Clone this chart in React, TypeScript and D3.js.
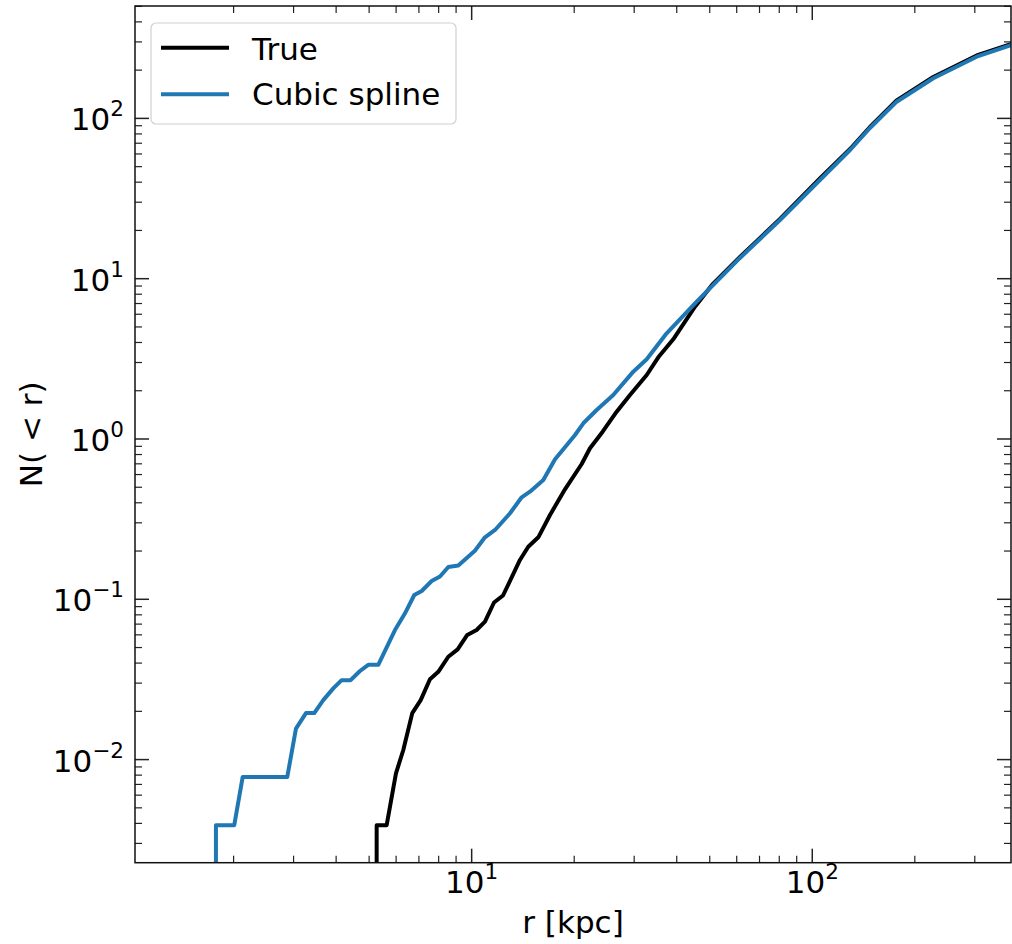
import React from "react";
import * as d3 from "d3";

const rTrue = [5.261, 5.261, 5.629, 5.994, 6.299, 6.693, 7.085, 7.543, 7.98, 8.538, 9.096, 9.707, 10.34, 10.94, 11.63, 12.36, 13.86, 14.66, 15.69, 16.98, 18.79, 21.04, 22.25, 24.24, 26.65, 29.16, 32.65, 35.31, 39.07, 45.25, 50.76, 61.34, 80.4, 105.3, 129.1, 147.7, 176.9, 226.6, 303.9, 384.9];
const nTrue = [0.0001, 0.0039, 0.0039, 0.00821, 0.01148, 0.0195, 0.0235, 0.0317, 0.0353, 0.0438, 0.0487, 0.0599, 0.0643, 0.0725, 0.0955, 0.1056, 0.1759, 0.2129, 0.2436, 0.3357, 0.4856, 0.6984, 0.8749, 1.111, 1.48, 1.882, 2.507, 3.233, 4.188, 6.689, 9.135, 13.66, 23.57, 42.18, 64.44, 88.4, 129.3, 181.3, 246.9, 291.1];

const rSpline = [1.775, 1.775, 2.009, 2.127, 2.875, 3.049, 3.262, 3.45, 3.667, 3.924, 4.152, 4.412, 4.699, 4.97, 5.319, 5.629, 5.954, 6.372, 6.784, 7.133, 7.631, 8.072, 8.538, 9.135, 10.22, 10.94, 11.71, 12.96, 14.02, 14.83, 16.23, 17.57, 18.79, 20.11, 21.27, 23.28, 26.04, 29.82, 32.65, 37.36, 45.78, 61.34, 80.4, 105.3, 129.1, 147.7, 176.9, 226.6, 303.9, 384.9];
const nSpline = [0.0001, 0.0039, 0.0039, 0.0078, 0.0078, 0.0156, 0.0195, 0.0195, 0.0235, 0.0278, 0.0313, 0.0313, 0.0357, 0.039, 0.039, 0.0502, 0.0643, 0.0818, 0.1064, 0.1127, 0.13, 0.1387, 0.159, 0.1625, 0.201, 0.2436, 0.2706, 0.344, 0.4328, 0.469, 0.5548, 0.747, 0.888, 1.059, 1.253, 1.517, 1.882, 2.63, 3.142, 4.564, 7.186, 13.47, 23.24, 41.28, 63.53, 87.1, 127.1, 177.9, 242.6, 287];

const xDomain = [1.027, 383.2];
const yDomain = [0.002274, 502.5];
const xMajorExps = [1, 2];
const yMajorExps = [-2, -1, 0, 1, 2];
const legendLabels = ["True", "Cubic spline"];
const seriesColors = ["#000000", "#1f77b4"];

const FONT = "DejaVu Sans, sans-serif";

function superLabel(exp: number) {
  return exp < 0 ? "\u2212" + Math.abs(exp) : String(exp);
}

function logTicks(domain: number[]) {
  const majors: number[] = [];
  const minors: number[] = [];
  const lo = Math.floor(Math.log10(domain[0]));
  const hi = Math.ceil(Math.log10(domain[1]));
  for (let k = lo; k <= hi; k++) {
    for (let m = 1; m <= 9; m++) {
      const v = m * Math.pow(10, k);
      if (v < domain[0] || v > domain[1]) continue;
      if (m === 1) majors.push(v);
      else minors.push(v);
    }
  }
  return { majors, minors };
}

export default function App() {
  const left = 135, right = 1011, top = 6, bottom = 862.7;
  const x = d3.scaleLog().domain(xDomain).range([left, right]);
  const y = d3.scaleLog().domain(yDomain).range([bottom, top]);

  const line = d3
    .line<[number, number]>()
    .x((d) => x(d[0]))
    .y((d) => y(d[1]));

  const trueData = rTrue.map((r, i) => [r, nTrue[i]] as [number, number]);
  const splineData = rSpline.map((r, i) => [r, nSpline[i]] as [number, number]);

  const xt = logTicks(xDomain);
  const yt = logTicks(yDomain);
  const majLen = 14, minLen = 7;
  const tickColor = "#222";
  const fs = 31;
  const sfs = 21.5;

  return (
    <svg
      width={1012}
      height={944}
      style={{ position: "absolute", left: 0, top: 0, background: "#fff" }}
      fontFamily={FONT}
    >
      <defs>
        <clipPath id="plotclip">
          <rect x={left} y={top} width={right - left} height={bottom - top} />
        </clipPath>
      </defs>
      <rect x={0} y={0} width={1012} height={944} fill="#fff" />

      <g clipPath="url(#plotclip)" fill="none" strokeWidth={4} strokeLinejoin="round">
        <path d={line(trueData) || ""} stroke={seriesColors[0]} />
        <path d={line(splineData) || ""} stroke={seriesColors[1]} />
      </g>

      {/* ticks */}
      <g stroke={tickColor}>
        {xt.majors.map((v, i) => (
          <g key={"xM" + i} strokeWidth={1.5}>
            <line x1={x(v)} x2={x(v)} y1={bottom} y2={bottom - majLen} />
            <line x1={x(v)} x2={x(v)} y1={top} y2={top + majLen} />
          </g>
        ))}
        {xt.minors.map((v, i) => (
          <g key={"xm" + i} strokeWidth={1.2}>
            <line x1={x(v)} x2={x(v)} y1={bottom} y2={bottom - minLen} />
            <line x1={x(v)} x2={x(v)} y1={top} y2={top + minLen} />
          </g>
        ))}
        {yt.majors.map((v, i) => (
          <g key={"yM" + i} strokeWidth={1.5}>
            <line x1={left} x2={left + majLen} y1={y(v)} y2={y(v)} />
            <line x1={right} x2={right - majLen} y1={y(v)} y2={y(v)} />
          </g>
        ))}
        {yt.minors.map((v, i) => (
          <g key={"ym" + i} strokeWidth={1.2}>
            <line x1={left} x2={left + minLen} y1={y(v)} y2={y(v)} />
            <line x1={right} x2={right - minLen} y1={y(v)} y2={y(v)} />
          </g>
        ))}
      </g>

      {/* frame */}
      <rect
        x={left}
        y={top}
        width={right - left}
        height={bottom - top}
        fill="none"
        stroke="#111"
        strokeWidth={1.5}
      />

      {/* x tick labels */}
      {xMajorExps.map((e) => (
        <text
          key={"xl" + e}
          x={x(Math.pow(10, e))}
          y={893}
          textAnchor="middle"
          fontSize={fs}
          fill="#000"
        >
          10
          <tspan fontSize={sfs} dy={-14}>
            {superLabel(e)}
          </tspan>
        </text>
      ))}

      {/* y tick labels */}
      {yMajorExps.map((e) => (
        <text
          key={"yl" + e}
          x={124}
          y={y(Math.pow(10, e)) + 12}
          textAnchor="end"
          fontSize={fs}
          fill="#000"
        >
          10
          <tspan fontSize={sfs} dy={-14}>
            {superLabel(e)}
          </tspan>
        </text>
      ))}

      {/* axis labels */}
      <text x={(left + right) / 2} y={933} textAnchor="middle" fontSize={fs} fill="#000">
        r [kpc]
      </text>
      <text
        transform={`translate(42, ${(top + bottom) / 2}) rotate(-90)`}
        textAnchor="middle"
        fontSize={fs}
        fill="#000"
      >
        N( &lt; r)
      </text>

      {/* legend */}
      <rect
        x={151}
        y={23}
        width={305}
        height={101}
        rx={5}
        fill="#fff"
        fillOpacity={0.8}
        stroke="#d0d0d0"
        strokeWidth={1.2}
      />
      {legendLabels.map((lab, i) => (
        <g key={"lg" + i}>
          <line
            x1={161}
            x2={229}
            y1={47.7 + i * 46.6}
            y2={47.7 + i * 46.6}
            stroke={seriesColors[i]}
            strokeWidth={4}
          />
          <text x={252} y={60 + i * 45} fontSize={fs} fill="#000">
            {lab}
          </text>
        </g>
      ))}
    </svg>
  );
}
